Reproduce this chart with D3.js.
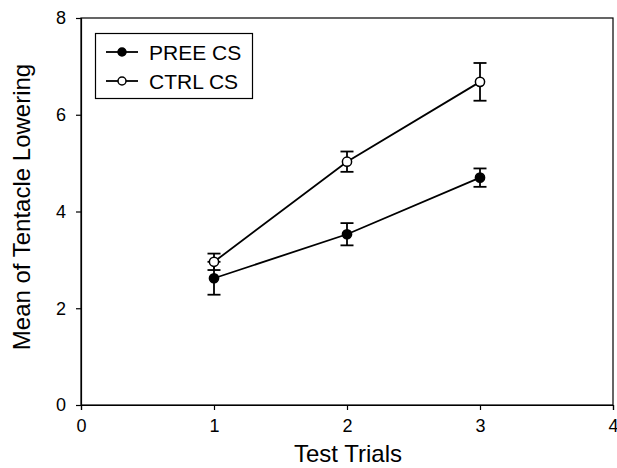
<!DOCTYPE html>
<html><head><meta charset="utf-8">
<script src="https://cdn.jsdelivr.net/npm/d3@7"></script>
<style>body{margin:0;background:#fff}svg{display:block}text{font-family:"Liberation Sans",Arial,sans-serif;fill:#000}</style>
</head><body>
<script>
const trials = [1, 2, 3];
const preeMean = [2.62, 3.53, 4.70];
const preeErr = [0.34, 0.23, 0.19];
const ctrlMean = [2.96, 5.03, 6.68];
const ctrlErr = [0.17, 0.21, 0.39];
const xTicks = [0, 1, 2, 3, 4];
const yTicks = [0, 2, 4, 6, 8];
const seriesNames = ["PREE CS", "CTRL CS"];

const W = 617, H = 468;
const svg = d3.select("body").append("svg").attr("width", W).attr("height", H);
const x = d3.scaleLinear().domain([0, 4]).range([81, 613]);
const y = d3.scaleLinear().domain([0, 8]).range([405, 18]);

svg.append("rect").attr("x", 81).attr("y", 18).attr("width", 613 - 81).attr("height", 405 - 18)
  .attr("fill", "none").attr("stroke", "#000").attr("stroke-width", 1.2);

const xAxis = svg.append("g").attr("transform", "translate(0,405)")
  .call(d3.axisBottom(x).tickValues(xTicks).tickFormat(d3.format("d")).tickSize(5).tickPadding(9));
const yAxis = svg.append("g").attr("transform", "translate(81,0)")
  .call(d3.axisLeft(y).tickValues(yTicks).tickFormat(d3.format("d")).tickSize(5).tickPadding(10));
[xAxis, yAxis].forEach(a => {
  a.attr("font-size", null).attr("font-family", null);
  a.select(".domain").attr("stroke", "#000").attr("stroke-width", 1.2);
  a.selectAll(".tick line").attr("stroke", "#000").attr("stroke-width", 1.2);
  a.selectAll(".tick text").style("font-size", "18px").attr("fill", "#000");
});

svg.append("text").attr("x", 348).attr("y", 462).attr("text-anchor", "middle").style("font-size", "24px").text("Test Trials");
svg.append("text").attr("transform", "translate(30,207) rotate(-90)").attr("text-anchor", "middle").style("font-size", "24px").text("Mean of Tentacle Lowering");

const series = [
  {name: seriesNames[0], mean: preeMean, err: preeErr, fill: "#000"},
  {name: seriesNames[1], mean: ctrlMean, err: ctrlErr, fill: "#fff"}
];
const line = d3.line().x(d => x(d[0])).y(d => y(d[1]));
series.forEach(s => {
  const pts = trials.map((t, i) => [t, s.mean[i]]);
  svg.append("path").attr("d", line(pts)).attr("fill", "none").attr("stroke", "#000").attr("stroke-width", 1.8);
});
series.forEach(s => {
  trials.forEach((t, i) => {
    const g = svg.append("g").attr("stroke", "#000").attr("stroke-width", 1.8);
    const cx = x(t), lo = y(s.mean[i] - s.err[i]), hi = y(s.mean[i] + s.err[i]);
    g.append("line").attr("x1", cx).attr("x2", cx).attr("y1", lo).attr("y2", hi);
    g.append("line").attr("x1", cx - 6.5).attr("x2", cx + 6.5).attr("y1", lo).attr("y2", lo);
    g.append("line").attr("x1", cx - 6.5).attr("x2", cx + 6.5).attr("y1", hi).attr("y2", hi);
  });
});
series.forEach(s => {
  svg.append("g").selectAll("circle").data(trials).join("circle")
    .attr("cx", d => x(d)).attr("cy", (d, i) => y(s.mean[i]))
    .attr("r", 4.6).attr("fill", s.fill).attr("stroke", "#000").attr("stroke-width", 1.5);
});

const lg = svg.append("g");
lg.append("rect").attr("x", 95.5).attr("y", 33.5).attr("width", 157).attr("height", 65)
  .attr("fill", "#fff").attr("stroke", "#000").attr("stroke-width", 1.2);
series.forEach((s, i) => {
  const yy = 52 + i * 29;
  lg.append("line").attr("x1", 106).attr("x2", 138).attr("y1", yy).attr("y2", yy).attr("stroke", "#000").attr("stroke-width", 1.8);
  lg.append("circle").attr("cx", 122).attr("cy", yy).attr("r", 4).attr("fill", s.fill).attr("stroke", "#000").attr("stroke-width", 1.5);
  lg.append("text").attr("x", 149).attr("y", yy + 7.5).style("font-size", "21px").text(s.name);
});
</script>
</body></html>
